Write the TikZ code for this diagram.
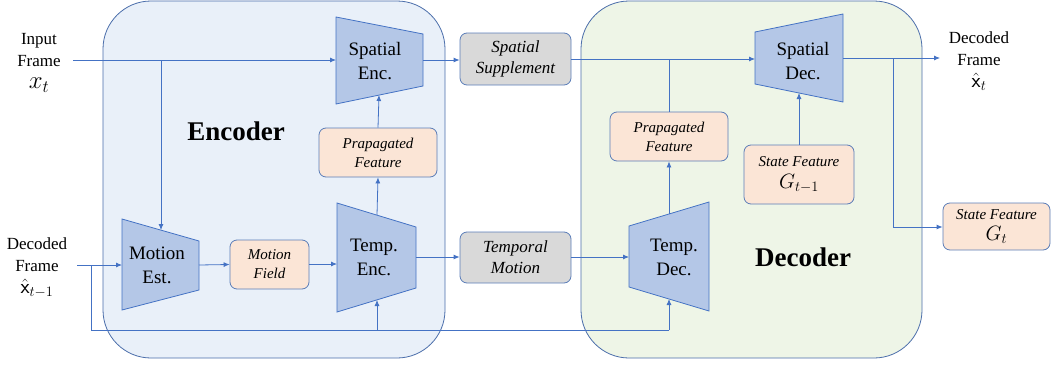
\documentclass[tikz,border=0pt]{standalone}
\usepackage{fontspec}
\setmainfont{Liberation Serif}
\usetikzlibrary{arrows.meta}
\definecolor{encfill}{HTML}{E9F0F9}
\definecolor{decfill}{HTML}{EEF5E7}
\definecolor{regline}{HTML}{4A6DAA}
\definecolor{tzfill}{HTML}{B4C7E7}
\definecolor{tzline}{HTML}{4472C4}
\definecolor{arrcol}{HTML}{4472C4}
\definecolor{orfill}{HTML}{FBE5D6}
\definecolor{grfill}{HTML}{D9D9D9}
\definecolor{boxline}{HTML}{5B7DB8}
\begin{document}
\begin{tikzpicture}[x=1pt,y=-1pt,
  region/.style={draw=regline, line width=0.8pt, rounded corners=48pt},
  tz/.style={draw=tzline, fill=tzfill, line width=0.8pt},
  tztext/.style={align=center, font=\fontsize{19}{24}\selectfont, inner sep=0pt},
  ibox/.style={draw=boxline, line width=0.8pt, rounded corners=7pt, align=center, inner sep=0pt},
  orbox/.style={ibox, fill=orfill, font=\itshape\fontsize{15}{19}\selectfont},
  grbox/.style={ibox, fill=grfill, font=\itshape\fontsize{17}{21}\selectfont},
  lbl/.style={align=center, font=\fontsize{17}{22}\selectfont, inner sep=0pt},
  big/.style={font=\bfseries\fontsize{27}{30}\selectfont, inner sep=0pt},
  arr/.style={draw=arrcol, line width=0.8pt, -{Latex[length=6pt,width=5pt]}},
  ln/.style={draw=arrcol, line width=0.8pt},
]
\useasboundingbox (0,0) rectangle (1051,364);

% regions
\draw[region, fill=encfill] (103,1) rectangle (445,358);
\draw[region, fill=decfill] (581,1) rectangle (922,358);
\node[big] (enclabel) at (236,131) {Encoder};
\node[big] (declabel) at (803,257) {Decoder};

% trapezoids
\draw[tz] (336,17) -- (423,34) -- (423,86) -- (336,104) -- cycle;
\node[tztext] (senc) at (375,61) {Spatial\\Enc.};
\draw[tz] (122,219) -- (199,241) -- (199,290) -- (122,310) -- cycle;
\node[tztext] (menc) at (157,265) {Motion\\Est.};
\draw[tz] (337,203) -- (416,227) -- (416,288) -- (337,312) -- cycle;
\node[tztext] (tenc) at (374,257) {Temp.\\Enc.};
\draw[tz] (629,226) -- (709,202) -- (709,311) -- (629,287) -- cycle;
\node[tztext] (tdec) at (674,257) {Temp.\\Dec.};
\draw[tz] (755,32) -- (843,14) -- (843,102) -- (755,84) -- cycle;
\node[tztext] (sdec) at (803,61) {Spatial\\Dec.};

% connection points on trapezoids
\coordinate (senc-in) at (336,60);
\coordinate (senc-out) at (423,60);
\coordinate (senc-bot) at (379,95);
\coordinate (menc-top) at (161,230);
\coordinate (menc-in) at (122,265);
\coordinate (menc-out) at (199,265);
\coordinate (tenc-in) at (337,264);
\coordinate (tenc-out) at (416,257);
\coordinate (tenc-top) at (377,215);
\coordinate (tenc-bot) at (377,300);
\coordinate (tdec-in) at (629,257);
\coordinate (tdec-top) at (669,214);
\coordinate (tdec-bot) at (669,299);
\coordinate (sdec-in) at (755,59);
\coordinate (sdec-out) at (843,58);
\coordinate (sdec-bot) at (799,93);

% boxes
\node[grbox, minimum width=111pt, minimum height=52pt] (ss) at (515.5,59) {Spatial\\Supplement};
\node[grbox, minimum width=111pt, minimum height=51pt] (tm) at (515.5,257.5) {Temporal\\Motion};
\node[orbox, minimum width=118pt, minimum height=49pt] (pfe) at (378,152.5) {Prapagated\\Feature};
\node[orbox, minimum width=79pt, minimum height=49pt] (mf) at (269.5,264.5) {Motion\\Field};
\node[orbox, minimum width=118pt, minimum height=49pt] (pfd) at (669,136.5) {Prapagated\\Feature};
\node[orbox, minimum width=110pt, minimum height=59pt] (sgm) at (799,174.5) {State Feature\\[3pt]{\upshape\fontsize{22}{22}\selectfont$G_{t-1}$}};
\node[orbox, minimum width=107pt, minimum height=47pt] (sg) at (996.5,226.5) {State Feature\\[2pt]{\upshape\fontsize{22}{22}\selectfont$G_{t}$}};

% labels
\node[lbl] (inlab) at (39,63) {Input\\Frame\\{\fontsize{24}{22}\selectfont$x_t$}};
\node[lbl] (dlab) at (37,268) {Decoded\\Frame\\{\fontsize{21}{22}\selectfont$\hat{\mathsf{x}}_{t-1}$}};
\node[lbl] (olab) at (979,61) {Decoded\\Frame\\{\fontsize{21}{22}\selectfont$\hat{\mathsf{x}}_{t}$}};

% input frame
\coordinate (in0) at (73,60);
\coordinate (j1) at (161,60);
\draw[arr] (in0) -- (senc-in);
\draw[arr] (j1) -- (menc-top);

% decoded frame (previous)
\coordinate (in1) at (77,265);
\coordinate (j2) at (91,265);
\coordinate (j3) at (91,330);
\coordinate (j4) at (377,330);
\coordinate (j5) at (669,330);
\draw[arr] (in1) -- (menc-in);
\draw[ln] (j2) -- (j3) -- (j5);
\draw[arr] (j5) -- (tdec-bot);
\draw[arr] (j4) -- (tenc-bot);

% encoder internals
\draw[arr] (menc-out) -- (mf.west);
\draw[arr] (mf.east |- tenc-in) -- (tenc-in);
\draw[arr] (tenc-top) -- (pfe.south);
\draw[arr] (pfe.north) -- (senc-bot);
\draw[arr] (senc-out) -- (ss.west |- senc-out);
\draw[arr] (tenc-out) -- (tm.west |- tenc-out);

% decoder
\coordinate (j6) at (669,59);
\draw[arr] (ss.east |- sdec-in) -- (sdec-in);
\draw[arr] (tm.east |- tdec-in) -- (tdec-in);
\draw[arr] (tdec-top) -- (pfd.south);
\draw[ln] (pfd.north) -- (j6);
\draw[arr] (sgm.north) -- (sdec-bot);

% outputs
\coordinate (out0) at (940,58);
\coordinate (j7) at (893,58);
\coordinate (j8) at (893,227);
\draw[arr] (sdec-out) -- (out0);
\draw[ln] (j7) -- (j8);
\draw[arr] (j8) -- (sg.west |- j8);
\end{tikzpicture}
\end{document}
